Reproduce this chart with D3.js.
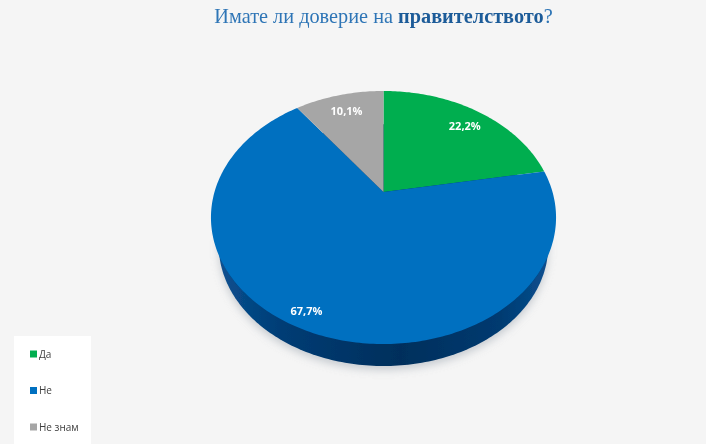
<!DOCTYPE html>
<html>
<head>
<meta charset="utf-8">
<script src="https://cdn.jsdelivr.net/npm/d3@7"></script>
<style>
  html, body { margin: 0; padding: 0; background: #f5f5f5; overflow: hidden; }
  svg { display: block; }
</style>
</head>
<body>
<div class="vis-container"></div>
<script>
// Data
const categories = ['Да', 'Не', 'Не знам'];
const values = [22.2, 67.7, 10.1];
const colors = ['#00ae50', '#0070c0', '#a6a6a6'];

const width = 706;
const height = 444;

// Pie geometry: the disc is seen in perspective, so the apex sits above the ellipse centre
const cx = 383.5;
const apexY = 192;
const radiusX = 169;
const radiusY = 121.4;
const tilt = -0.2016;
const depth = 22;

// Label placement along each slice's middle angle, then a small nudge
const labelRadius = [0.8, 0.88, 0.81];
const labelNudge = [4, -11, 0];

const svg = d3
  .select('.vis-container')
  .append('svg')
  .attr('width', width)
  .attr('height', height);

const defs = svg.append('defs');
defs.append('filter').attr('id', 'soft')
  .append('feGaussianBlur').attr('stdDeviation', 0.45);
defs.append('filter').attr('id', 'shadow')
  .attr('x', '-10%').attr('y', '-10%').attr('width', '120%').attr('height', '120%')
  .append('feGaussianBlur').attr('stdDeviation', 4);

const wallGradient = defs.append('linearGradient').attr('id', 'wall');
wallGradient.append('stop').attr('offset', '0%').attr('stop-color', '#0a5090');
wallGradient.append('stop').attr('offset', '20%').attr('stop-color', '#003c74');
wallGradient.append('stop').attr('offset', '55%').attr('stop-color', '#002f5c');
wallGradient.append('stop').attr('offset', '85%').attr('stop-color', '#003a70');
wallGradient.append('stop').attr('offset', '100%').attr('stop-color', '#0a5090');

// Project a point of the unit disc (angle clockwise from the top, radius 0..1) to the screen
function project(angle, r) {
  const u = r * Math.sin(angle);
  const v = -r * Math.cos(angle);
  const w = 1 + tilt * v;
  return [cx + (radiusX * u) / w, apexY + (radiusY * v) / w];
}

const pie = d3.pie().sort(null).value((d) => d);
const arcs = pie(values);
const line = d3.line();

function slicePath(d) {
  const steps = Math.ceil((d.endAngle - d.startAngle) * 60);
  const rim = d3.range(steps + 1).map((i) =>
    project(d.startAngle + ((d.endAngle - d.startAngle) * i) / steps, 1)
  );
  return line([project(0, 0), ...rim]) + 'Z';
}

// Outline of the whole disc, used for the wall and the shadow
const outline = d3.range(361).map((i) => project((i * Math.PI) / 180, 1));
const topY = d3.min(outline, (p) => p[1]);
const bottomY = d3.max(outline, (p) => p[1]);
const shrink = 0.955;
const lowerDisc = outline.map((p) => [
  cx + (p[0] - cx) * shrink,
  bottomY + depth + (p[1] - bottomY) * shrink
]);

const chart = svg.append('g').attr('filter', 'url(#soft)');

chart
  .append('path')
  .attr('d', line(lowerDisc.map((p) => [p[0], p[1] + 4])) + 'Z')
  .attr('fill', '#9aa3ad')
  .attr('opacity', 0.5)
  .attr('filter', 'url(#shadow)');

chart
  .append('path')
  .attr('d', line(lowerDisc) + 'Z')
  .attr('fill', 'url(#wall)');

chart
  .selectAll('path.slice')
  .data(arcs)
  .join('path')
  .attr('class', 'slice')
  .attr('d', slicePath)
  .attr('fill', (d, i) => colors[i]);

// Labels use a comma as the decimal mark
const percent = d3.formatLocale({
  decimal: ',',
  thousands: ' ',
  grouping: [3],
  currency: ['', '']
}).format('.1f');

chart
  .selectAll('text.value')
  .data(arcs)
  .join('text')
  .attr('class', 'value')
  .attr('x', (d, i) => project((d.startAngle + d.endAngle) / 2, labelRadius[i])[0] + labelNudge[i])
  .attr('y', (d, i) => project((d.startAngle + d.endAngle) / 2, labelRadius[i])[1])
  .attr('dy', '0.35em')
  .attr('text-anchor', 'middle')
  .attr('font-family', 'Open Sans')
  .attr('font-weight', 700)
  .attr('font-size', 11)
  .attr('fill', 'white')
  .text((d) => percent(d.data) + '%');

// Title
const title = svg
  .append('text')
  .attr('x', 383.5)
  .attr('y', 23)
  .attr('text-anchor', 'middle')
  .attr('font-family', 'Liberation Serif')
  .attr('font-size', 20.3)
  .attr('fill', '#2e75b6')
  .attr('filter', 'url(#soft)');
title.append('tspan').text('Имате ли доверие на ');
title.append('tspan').attr('font-weight', 700).attr('fill', '#1f5c99').text('правителството');
title.append('tspan').text('?');

// Legend
const legend = svg.append('g').attr('filter', 'url(#soft)');
legend
  .append('rect')
  .attr('x', 14)
  .attr('y', 336)
  .attr('width', 77)
  .attr('height', 108)
  .attr('fill', 'white');

const legendY = d3.scalePoint().domain(categories).range([354, 427]);

const legendItem = legend
  .selectAll('g')
  .data(categories)
  .join('g')
  .attr('transform', (d) => `translate(30,${legendY(d)})`);

legendItem
  .append('rect')
  .attr('x', 0)
  .attr('y', -3.5)
  .attr('width', 7)
  .attr('height', 7)
  .attr('fill', (d, i) => colors[i]);

legendItem
  .append('text')
  .attr('x', 9)
  .attr('dy', '0.35em')
  .attr('font-family', 'Open Sans')
  .attr('font-size', 10)
  .attr('fill', '#404040')
  .text((d) => d);
</script>
</body>
</html>
